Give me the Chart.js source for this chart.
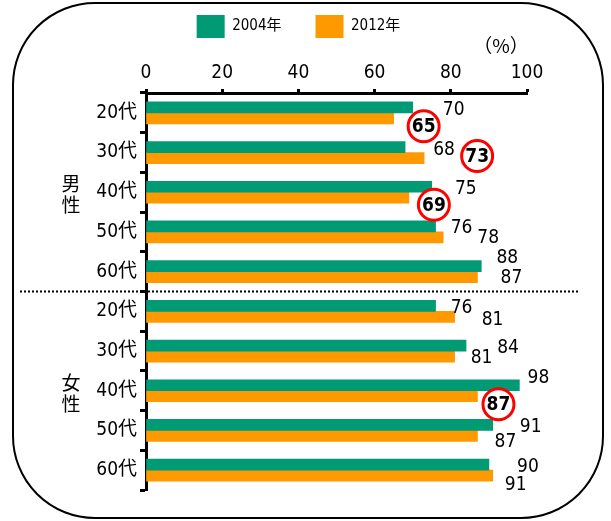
<!DOCTYPE html>
<html>
<head>
<meta charset="utf-8">
<script src="https://cdn.jsdelivr.net/npm/chart.js@4"></script>
<style>
  body { margin: 0; background: #fff; }
  #wrap { width: 611px; height: 521px; }
</style>
</head>
<body>
<div id="wrap"><canvas id="myChart" width="611" height="521"></canvas></div>
<script>
// datos
const categorias = ['20代', '30代', '40代', '50代', '60代', '20代', '30代', '40代', '50代', '60代'];
const grupos = ['男性', '女性'];
const serie2004 = [70, 68, 75, 76, 88, 76, 84, 98, 91, 90];
const serie2012 = [65, 73, 69, 78, 87, 81, 81, 87, 87, 91];
const nombresSeries = ['2004年', '2012年'];
const ticksX = [0, 20, 40, 60, 80, 100];
const marcados2012 = [0, 1, 2, 7];

// desplazamientos de las etiquetas (a mano, como en el original)
const dx2004 = [41, 39, 34, 26, 26, 26, 42, 19, 38, 39];
const dy2004 = [3, 3, 2, 2, -8, 2, 3, -7, 2, 2];
const dx2012 = [30, 53, 25, 45, 34, 38, 27, 21, 28, 23];
const dy2012 = [8, -2, 7, 1, 1, 3, 2, 8, 6, 9];

const fuente = "'Liberation Sans Narrow', 'DejaVu Sans Condensed', 'Noto Sans CJK JP', sans-serif";

const extras = {
  id: 'extras',
  beforeDraw(chart) {
    const ctx = chart.ctx;
    ctx.save();
    ctx.fillStyle = '#fff';
    ctx.fillRect(0, 0, chart.width, chart.height);
    ctx.beginPath();
    ctx.roundRect(13, 3, 590, 515, 82);
    ctx.lineWidth = 2;
    ctx.strokeStyle = '#000';
    ctx.stroke();
    ctx.restore();
  },
  afterDatasetsDraw(chart) {
    const ctx = chart.ctx;
    const y = chart.scales.y;
    const x = chart.scales.x;
    ctx.save();

    // linea punteada entre grupos
    const ySep = (y.getPixelForValue(4) + y.getPixelForValue(5)) / 2;
    ctx.beginPath();
    ctx.setLineDash([2, 2]);
    ctx.lineWidth = 2;
    ctx.strokeStyle = '#000';
    ctx.moveTo(20, ySep);
    ctx.lineTo(580, ySep);
    ctx.stroke();
    ctx.setLineDash([]);

    // 男性 / 女性 en vertical
    ctx.fillStyle = '#000';
    ctx.font = "19px 'Noto Sans CJK JP', sans-serif";
    ctx.textAlign = 'center';
    ctx.textBaseline = 'middle';
    grupos.forEach((g, k) => {
      const yc = (y.getPixelForValue(k * 5) + y.getPixelForValue(k * 5 + 4)) / 2 + 2;
      ctx.fillText(g[0], 71, yc - 10);
      ctx.fillText(g[1], 71, yc + 11);
    });

    // (%)
    ctx.font = "19px 'Noto Sans CJK JP', sans-serif";
    ctx.fillText('（%）', x.getPixelForValue(100) - 26, chart.chartArea.top - 47);

    // etiquetas de valores
    const m0 = chart.getDatasetMeta(0).data;
    const m1 = chart.getDatasetMeta(1).data;
    ctx.font = '19px ' + fuente;
    serie2004.forEach((v, i) => {
      ctx.fillStyle = '#000';
      ctx.fillText(v, m0[i].x + dx2004[i], m0[i].y + dy2004[i]);
    });
    serie2012.forEach((v, i) => {
      const px = m1[i].x + dx2012[i];
      const py = m1[i].y + dy2012[i];
      if (marcados2012.includes(i)) {
        ctx.beginPath();
        ctx.arc(px, py, 15.5, 0, Math.PI * 2);
        ctx.fillStyle = '#fff';
        ctx.fill();
        ctx.lineWidth = 3;
        ctx.strokeStyle = '#ff0000';
        ctx.stroke();
        ctx.fillStyle = '#000';
        ctx.font = 'bold 19px ' + fuente;
        ctx.fillText(v, px, py + 1);
        ctx.font = '19px ' + fuente;
      } else {
        ctx.fillStyle = '#000';
        ctx.fillText(v, px, py);
      }
    });
    ctx.restore();
  }
};

const data = {
  labels: categorias,
  datasets: [{
    label: nombresSeries[0],
    backgroundColor: '#009a74',
    data: serie2004
  }, {
    label: nombresSeries[1],
    backgroundColor: '#ff9900',
    data: serie2012
  }]
};

const config = {
  type: 'bar',
  data: data,
  options: {
    indexAxis: 'y',
    responsive: false,
    animation: false,
    barThickness: 11,
    layout: { padding: { left: 70, right: 84, top: -19, bottom: 31 } },
    plugins: {
      legend: {
        position: 'top',
        maxHeight: 63,
        labels: {
          boxWidth: 28,
          boxHeight: 23,
          padding: 34,
          color: '#000',
          font: { size: 15, family: fuente }
        }
      },
      tooltip: { enabled: false }
    },
    scales: {
      x: {
        position: 'top',
        min: 0,
        max: 100,
        afterFit(s) { s.height = 49; },
        afterBuildTicks(s) { s.ticks = ticksX.map(v => ({ value: v })); },
        grid: { drawOnChartArea: false, tickLength: 4, tickWidth: 3, color: '#000' },
        border: { display: true, width: 3, color: '#000' },
        ticks: { padding: 5, color: '#000', font: { size: 19, family: fuente } }
      },
      y: {
        afterFit(s) { s.width = 76; },
        grid: { drawOnChartArea: false, offset: true, tickLength: 6, tickWidth: 3, color: '#000' },
        border: { display: true, width: 3, color: '#000' },
        ticks: { padding: 3, color: '#000', font: { size: 19, family: fuente } }
      }
    }
  },
  plugins: [extras]
};

const myChart = new Chart(document.getElementById('myChart'), config);
</script>
</body>
</html>
